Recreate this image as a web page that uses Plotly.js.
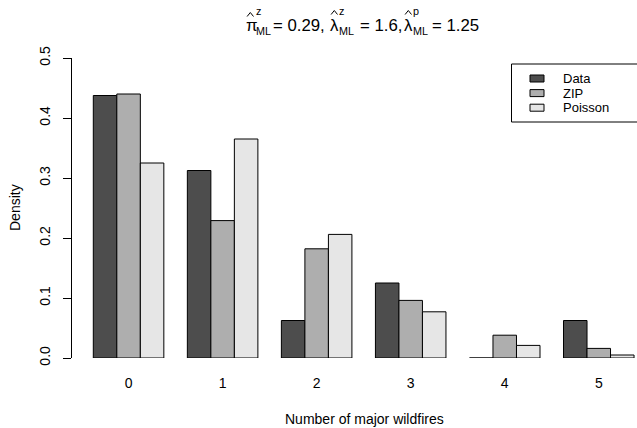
<!DOCTYPE html>
<html>
<head>
<meta charset="utf-8">
<script src="https://cdn.plot.ly/plotly-3.0.1.min.js"></script>
<style>
  html, body { margin: 0; padding: 0; background: #ffffff; }
  #chart { width: 637px; height: 428px; }
</style>
</head>
<body>
<div id="chart"></div>
<script>
// Number of major wildfires per period: observed and fitted densities
const counts = ['0', '1', '2', '3', '4', '5'];
const seriesNames = ['Data', 'ZIP', 'Poisson'];
const dataDensity = [0.4375, 0.3125, 0.0625, 0.125, 0, 0.0625];
const zipDensity = [0.440, 0.229, 0.182, 0.096, 0.038, 0.016];
const poissonDensity = [0.325, 0.365, 0.206, 0.077, 0.021, 0.005];
const seriesColors = ['#4D4D4D', '#AEAEAE', '#E6E6E6'];
const yTicks = [0, 0.1, 0.2, 0.3, 0.4, 0.5];

const FONT = 'Liberation Sans, Arial, Helvetica, sans-serif';
const W = 637, H = 428;
const M = { l: 72, r: 0, t: 58, b: 70 };
const plotW = W - M.l - M.r, plotH = H - M.t - M.b;

// pixel position -> paper coordinates
const px = x => (x - M.l) / plotW;
const py = y => (H - M.b - y) / plotH;

const xs = counts.map((_, i) => i);
const values = [dataDensity, zipDensity, poissonDensity];

const traces = values.map((v, i) => ({
  type: 'bar',
  name: seriesNames[i],
  x: xs,
  y: v,
  marker: { color: seriesColors[i], line: { color: '#000000', width: 1 } },
  hoverinfo: 'skip',
  showlegend: false
}));

const annotations = [];
const shapes = [];

function label(x, y, text, size, anchor, extra) {
  annotations.push(Object.assign({
    xref: 'paper', yref: 'paper', x: px(x), y: py(y),
    text: text, showarrow: false, borderpad: 0, borderwidth: 0,
    xanchor: anchor || 'left', yanchor: 'middle',
    font: { family: FONT, size: size, color: '#000000' }
  }, extra || {}));
}

// small circumflex drawn above an estimator symbol
function hat(cx, cy) {
  const path = 'M' + px(cx - 3.2) + ',' + py(cy + 2) +
               ' L' + px(cx) + ',' + py(cy - 2) +
               ' L' + px(cx + 3.2) + ',' + py(cy + 2);
  shapes.push({ type: 'path', xref: 'paper', yref: 'paper', path: path,
                line: { color: '#000000', width: 1 }, layer: 'above' });
}

// Title: estimates with hats, superscripts and subscripts
const mainY = 25.5, supY = 11.5, subY = 30.5;
const big = 16.8, small = 10.8;
function hatted(x, sym, sup, symW, hatY) {
  label(x, mainY, sym, big, 'left');
  hat(x + 4.3, hatY);
  label(x + symW, supY, sup, small, 'left');
  label(x + symW, subY, 'ML', small, 'left');
}
hatted(246, 'π', 'z', 10.2, 14.5);
label(272.5, mainY, '= 0.29,', big, 'left');
hatted(330, 'λ', 'z', 9.2, 12.5);
label(359.5, mainY, '= 1.6,', big, 'left');
hatted(404, 'λ', 'p', 9.2, 12.5);
label(432, mainY, '= 1.25', big, 'left');

// Axis titles
label(364, 419, 'Number of major wildfires', 14, 'center');
label(15, 208, 'Density', 14, 'center', { textangle: -90 });

// Legend box
shapes.push({
  type: 'rect', xref: 'paper', yref: 'paper',
  x0: px(511.5), x1: px(650), y0: py(122), y1: py(64),
  line: { color: '#000000', width: 1 }, fillcolor: '#ffffff', layer: 'above'
});
const rowY = [78.5, 93.1, 107.7];
seriesNames.forEach((name, i) => {
  shapes.push({
    type: 'rect', xref: 'paper', yref: 'paper',
    x0: px(530), x1: px(544), y0: py(rowY[i] + 3.5), y1: py(rowY[i] - 3.5),
    line: { color: '#000000', width: 1 }, fillcolor: seriesColors[i], layer: 'above'
  });
  label(563, rowY[i], name, 13, 'left');
});

const layout = {
  width: W, height: H,
  margin: M,
  paper_bgcolor: '#ffffff', plot_bgcolor: '#ffffff',
  barmode: 'group', bargap: 0.25, bargroupgap: 0,
  font: { family: FONT, size: 14, color: '#000000' },
  xaxis: {
    range: [-0.6016, 5.4065],
    tickmode: 'array', tickvals: xs, ticktext: counts,
    showline: false, showgrid: false, zeroline: false, ticks: '',
    ticklabelstandoff: 15,
    tickfont: { family: FONT, size: 14, color: '#000000' }
  },
  yaxis: {
    range: [0, 0.5],
    tickmode: 'array', tickvals: yTicks, ticktext: yTicks.map(v => v.toFixed(1)),
    showline: true, linecolor: '#000000', linewidth: 1,
    ticks: 'outside', ticklen: 8, tickwidth: 1, tickcolor: '#000000',
    tickangle: -90, ticklabelstandoff: 7,
    showgrid: false, zeroline: false,
    tickfont: { family: FONT, size: 14, color: '#000000' }
  },
  annotations: annotations,
  shapes: shapes,
  showlegend: false
};

Plotly.newPlot('chart', traces, layout, { staticPlot: true, displayModeBar: false });
</script>
</body>
</html>
